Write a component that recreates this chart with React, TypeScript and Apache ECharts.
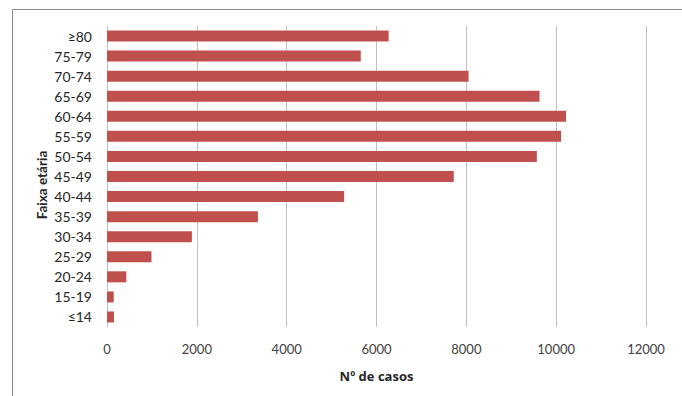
import React, { useEffect, useRef } from "react";
import * as echarts from "echarts";

const categories = ["≥80", "75-79", "70-74", "65-69", "60-64", "55-59", "50-54", "45-49", "40-44", "35-39", "30-34", "25-29", "20-24", "15-19", "≤14"];
const casos = [6270, 5650, 8050, 9630, 10220, 10110, 9570, 7720, 5280, 3360, 1890, 990, 430, 150, 155];
const xTitle = "Nº de casos";
const yTitle = "Faixa etária";

const FONT = "Lato, 'Open Sans', sans-serif";

export default function App() {
  const ref = useRef<HTMLDivElement>(null);
  useEffect(() => {
    if (!ref.current) return;
    const chart = echarts.init(ref.current, null, { renderer: "svg" });
    chart.setOption({
      animation: false,
      backgroundColor: "#ffffff",
      grid: { left: 107, right: 36, top: 26, bottom: 69, containLabel: false },
      xAxis: {
        type: "value",
        min: 0,
        max: 12000,
        interval: 2000,
        axisLine: { show: false },
        axisTick: { show: false },
        splitLine: { show: true, lineStyle: { color: "#bfbfbf", width: 1 } },
        axisLabel: {
          color: "#404040",
          fontSize: 13,
          fontFamily: FONT,
          margin: 15,
          formatter: (v: number) => String(v),
        },
        name: xTitle,
        nameLocation: "middle",
        nameGap: 42,
        nameTextStyle: { color: "#262626", fontSize: 13, fontWeight: "bold", fontFamily: "'Open Sans', sans-serif" },
      },
      yAxis: {
        type: "category",
        data: categories,
        inverse: true,
        axisLine: { show: false },
        axisTick: { show: false },
        axisLabel: { color: "#262626", fontSize: 14, fontFamily: FONT, margin: 15 },
      },
      graphic: [
        {
          type: "rect",
          shape: { x: 12.5, y: 9.5, width: 720, height: 420 },
          style: { fill: "none", stroke: "#888888", lineWidth: 1 },
          silent: true,
        },
        {
          type: "text",
          x: 42,
          y: 185,
          rotation: Math.PI / 2,
          style: {
            text: yTitle,
            fill: "#262626",
            font: `bold 13.5px ${FONT}`,
            textAlign: "center",
            textVerticalAlign: "middle",
          },
        },
      ],
      series: [
        {
          type: "bar",
          data: casos,
          barWidth: 11,
          itemStyle: { color: "#c0504d" },
        },
      ],
    });
    return () => chart.dispose();
  }, []);
  return <div ref={ref} style={{ position: "fixed", left: 0, top: 0, width: 682, height: 396 }} />;
}
